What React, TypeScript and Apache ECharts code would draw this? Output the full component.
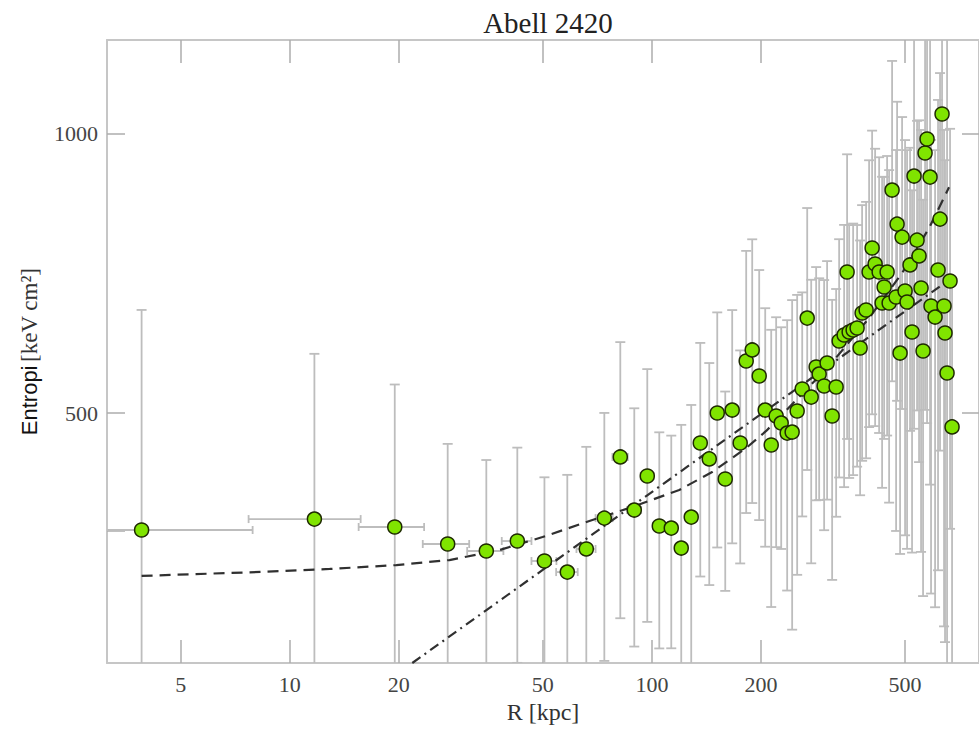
import React, { useEffect, useRef } from "react";
import * as echarts from "echarts";

// ---------- data ----------
const TITLE = "Abell 2420";
const X_NAME = "R [kpc]";
const X_MIN = 3.13;
const X_MAX = 800;
const Y_MIN = 268.7;
const Y_MAX = 1263;
const X_TICKS = [5, 10, 20, 50, 100, 200, 500];
const Y_LABELS = [500, 1000];
const Y_TICKS_LEFT = [373, 500, 1000];
const RADIUS_HALF_BIN = 4;

const radius = [
  3.9, 11.7, 19.5, 27.3, 34.9, 42.5, 50.5, 58.4, 65.9, 73.9,
  81.8, 89.4, 97.1, 104.8, 113.1, 120.5, 128.4, 136.0, 144.0, 151.5,
  159.4, 166.6, 175.3, 182.1, 189.2, 197.8, 205.5, 213.5, 220.3, 227.5,
  236.3, 243.9, 251.8, 260.0, 268.4, 275.3, 284.1, 289.6, 298.9, 304.6,
  314.5, 322.6, 328.8, 339.4, 345.9, 350.4, 359.4, 368.6, 375.7, 380.5,
  390.3, 397.8, 405.5, 413.3, 424.0, 432.1, 437.7, 446.1, 451.8, 460.4,
  472.3, 475.3, 484.4, 490.6, 500.0, 506.4, 516.1, 522.7, 529.4, 539.6,
  546.5, 553.5, 560.6, 567.8, 575.0, 586.1, 589.8, 605.1, 616.6, 624.5,
  632.5, 640.6, 644.6, 653.0, 665.5, 674.1,
];

const entropy = [
  373.9, 384.2, 376.7, 361.1, 354.9, 363.8, 346.2, 336.8, 356.7, 385.1,
  448.3, 392.9, 427.6, 377.6, 375.7, 357.5, 386.1, 464.1, 446.1, 500.0,
  424.4, 503.7, 464.1, 569.0, 584.8, 548.2, 503.7, 461.8, 496.3, 487.7,
  475.7, 476.9, 502.5, 530.7, 633.0, 520.2, 560.5, 550.8, 534.7, 566.2,
  496.3, 533.4, 598.0, 606.9, 709.8, 611.5, 614.5, 617.6, 587.6, 641.0,
  645.8, 709.8, 753.4, 724.0, 709.8, 657.2, 683.8, 709.8, 657.2, 870.0,
  667.0, 799.4, 580.3, 774.0, 677.0, 658.8, 722.3, 611.5, 900.8, 768.2,
  738.6, 682.1, 583.3, 953.9, 987.6, 898.5, 652.3, 634.6, 713.3, 809.4,
  1051, 652.3, 610.0, 552.3, 694.0, 483.0,
];

const entropyErr = [
  272, 195, 160, 102, 90, 95, 80, 92, 103, 115,
  148, 113, 130, 99, 97, 128, 124, 131, 120, 142,
  103, 142, 120, 179, 185, 165, 145, 153, 138, 131,
  154, 185, 168, 144, 199, 176, 158, 148, 161, 163,
  166, 147, 172, 191, 241, 186, 186, 180, 180, 197,
  199, 227, 255, 240, 234, 242, 215, 237, 257, 329,
  294, 284, 228, 269, 308, 302, 244, 258, 420, 265,
  296, 328, 266, 450, 500, 480, 333, 326, 375, 354,
  500, 358, 327, 720, 319, 215,
];

// fitted profiles
const fitDashedR = [
  3.9, 7.75, 12.9, 19.7, 27.6, 37.9, 49.9, 67.2, 88.3, 119.0,
  146.7, 182.1, 206.8, 250.2, 308.5, 397.8, 490.6, 582.5, 661.3,
];
const fitDashedK = [
  333.6, 336.6, 339.4, 342.7, 347.0, 355.7, 367.4, 382.3, 395.9, 413.0,
  431.8, 458.4, 478.2, 516.4, 561.9, 633.0, 707.9, 791.6, 876.0,
];
const fitPowerR = [21.8, 661.3];
const fitPowerK = [268.7, 696.0];

// ---------- styles ----------
const SERIF = "'Liberation Serif', 'DejaVu Serif', serif";
const SANS = "'Liberation Sans', 'DejaVu Sans', sans-serif";
const AXIS_COLOR = "#c6c6c6";
const TICK_COLOR = "#acacac";
const ERR_COLOR = "#bdbdbd";

export default function App() {
  const ref = useRef<HTMLDivElement>(null);

  useEffect(() => {
    if (!ref.current) return;
    const chart = echarts.init(ref.current, null, { renderer: "svg" });

    const errData = radius.map((r, i) => [r, entropy[i], RADIUS_HALF_BIN, entropyErr[i]]);

    const renderErr = (params: any, api: any) => {
      const x = api.value(0);
      const y = api.value(1);
      const dx = api.value(2);
      const dy = api.value(3);
      const hi = y + dy;
      const lo = y - dy;
      const hiC = Math.min(hi, Y_MAX);
      const loC = Math.max(lo, Y_MIN);
      const l = x - dx;
      const r = x + dx;
      const lC = Math.max(l, X_MIN);
      const rC = Math.min(r, X_MAX);
      const pT = api.coord([x, hiC]);
      const pB = api.coord([x, loC]);
      const pL = api.coord([lC, y]);
      const pR = api.coord([rC, y]);
      const style = { stroke: ERR_COLOR, lineWidth: 1.8, fill: null };
      const cap = 5;
      const children: any[] = [
        { type: "line", shape: { x1: pT[0], y1: pT[1], x2: pB[0], y2: pB[1] }, style },
        { type: "line", shape: { x1: pL[0], y1: pL[1], x2: pR[0], y2: pR[1] }, style },
      ];
      if (hi <= Y_MAX) children.push({ type: "line", shape: { x1: pT[0] - cap, y1: pT[1], x2: pT[0] + cap, y2: pT[1] }, style });
      if (lo >= Y_MIN) children.push({ type: "line", shape: { x1: pB[0] - cap, y1: pB[1], x2: pB[0] + cap, y2: pB[1] }, style });
      if (l >= X_MIN) children.push({ type: "line", shape: { x1: pL[0], y1: pL[1] - 4, x2: pL[0], y2: pL[1] + 4 }, style });
      if (r <= X_MAX) children.push({ type: "line", shape: { x1: pR[0], y1: pR[1] - 4, x2: pR[0], y2: pR[1] + 4 }, style });
      return { type: "group", children };
    };

    const xAxisBase = {
      type: "log",
      logBase: 10,
      min: X_MIN,
      max: X_MAX,
      axisLine: { show: true, lineStyle: { color: AXIS_COLOR, width: 2 } },
      axisTick: { show: true, inside: true, length: 23, customValues: X_TICKS, lineStyle: { color: TICK_COLOR, width: 1.5 } },
      minorTick: { show: false },
      splitLine: { show: false },
      minorSplitLine: { show: false },
    };
    const yAxisBase = {
      type: "log",
      logBase: 10,
      min: Y_MIN,
      max: Y_MAX,
      axisLine: { show: true, lineStyle: { color: AXIS_COLOR, width: 2 } },
      minorTick: { show: false },
      splitLine: { show: false },
      minorSplitLine: { show: false },
    };

    chart.setOption({
      animation: false,
      backgroundColor: "#ffffff",
      title: {
        text: TITLE,
        left: 543,
        textAlign: "center",
        top: 3,
        textStyle: { fontFamily: SERIF, fontSize: 29, fontWeight: "normal", color: "#222" },
      },
      grid: { left: 107, top: 40, right: -1, bottom: 68, containLabel: false },
      xAxis: [
        {
          ...xAxisBase,
          position: "bottom",
          axisLabel: {
            show: true,
            customValues: X_TICKS,
            margin: 10,
            fontFamily: SERIF,
            fontSize: 22,
            color: "#444",
            formatter: (v: number) => String(Math.round(v)),
          },
          name: X_NAME,
          nameLocation: "middle",
          nameGap: 36,
          nameTextStyle: { fontFamily: SERIF, fontSize: 24, color: "#333" },
        },
        {
          ...xAxisBase,
          position: "top",
          axisLabel: { show: false },
        },
      ],
      yAxis: [
        {
          ...yAxisBase,
          position: "left",
          axisTick: { show: true, inside: true, length: 18, customValues: Y_TICKS_LEFT, lineStyle: { color: TICK_COLOR, width: 1.5 } },
          axisLabel: {
            show: true,
            customValues: Y_LABELS,
            margin: 9,
            fontFamily: SERIF,
            fontSize: 22,
            color: "#444",
            formatter: (v: number) => String(Math.round(v)),
          },
          name: "{a|Entropi} {b|[keV cm²]}",
          nameLocation: "middle",
          nameRotate: 90,
          nameGap: 66,
          nameTextStyle: {
            rich: {
              a: { fontFamily: SANS, fontSize: 22, color: "#111" },
              b: { fontFamily: SERIF, fontSize: 23, color: "#333" },
            },
          },
        },
        {
          ...yAxisBase,
          position: "right",
          axisTick: { show: true, inside: true, length: 17, customValues: Y_LABELS, lineStyle: { color: TICK_COLOR, width: 1.5 } },
          axisLabel: { show: false },
        },
      ],
      series: [
        {
          type: "custom",
          name: "errors",
          xAxisIndex: 0,
          yAxisIndex: 0,
          renderItem: renderErr,
          data: errData,
          encode: { x: 0, y: 1 },
          clip: true,
          z: 1,
          silent: true,
        },
        {
          type: "line",
          name: "K0 + K100 (r/100)^a",
          xAxisIndex: 0,
          yAxisIndex: 0,
          data: fitDashedR.map((r, i) => [r, fitDashedK[i]]),
          smooth: false,
          symbol: "none",
          clip: true,
          lineStyle: { color: "#303030", width: 2.2, type: [11, 7] },
          z: 3,
          silent: true,
        },
        {
          type: "line",
          name: "power law",
          xAxisIndex: 0,
          yAxisIndex: 0,
          data: fitPowerR.map((r, i) => [r, fitPowerK[i]]),
          symbol: "none",
          clip: true,
          lineStyle: { color: "#303030", width: 2.2, type: [10, 5, 2, 5] },
          z: 3,
          silent: true,
        },
        {
          type: "scatter",
          name: "data",
          xAxisIndex: 0,
          yAxisIndex: 0,
          data: radius.map((r, i) => [r, entropy[i]]),
          symbol: "circle",
          symbolSize: 14,
          itemStyle: { color: "#80e400", borderColor: "#1e2a00", borderWidth: 1.5, opacity: 1 },
          z: 4,
          silent: true,
        },
      ],
    });

    return () => chart.dispose();
  }, []);

  return (
    <div
      ref={ref}
      style={{ position: "absolute", left: 0, top: 0, width: 979, height: 731, background: "#fff" }}
    />
  );
}
